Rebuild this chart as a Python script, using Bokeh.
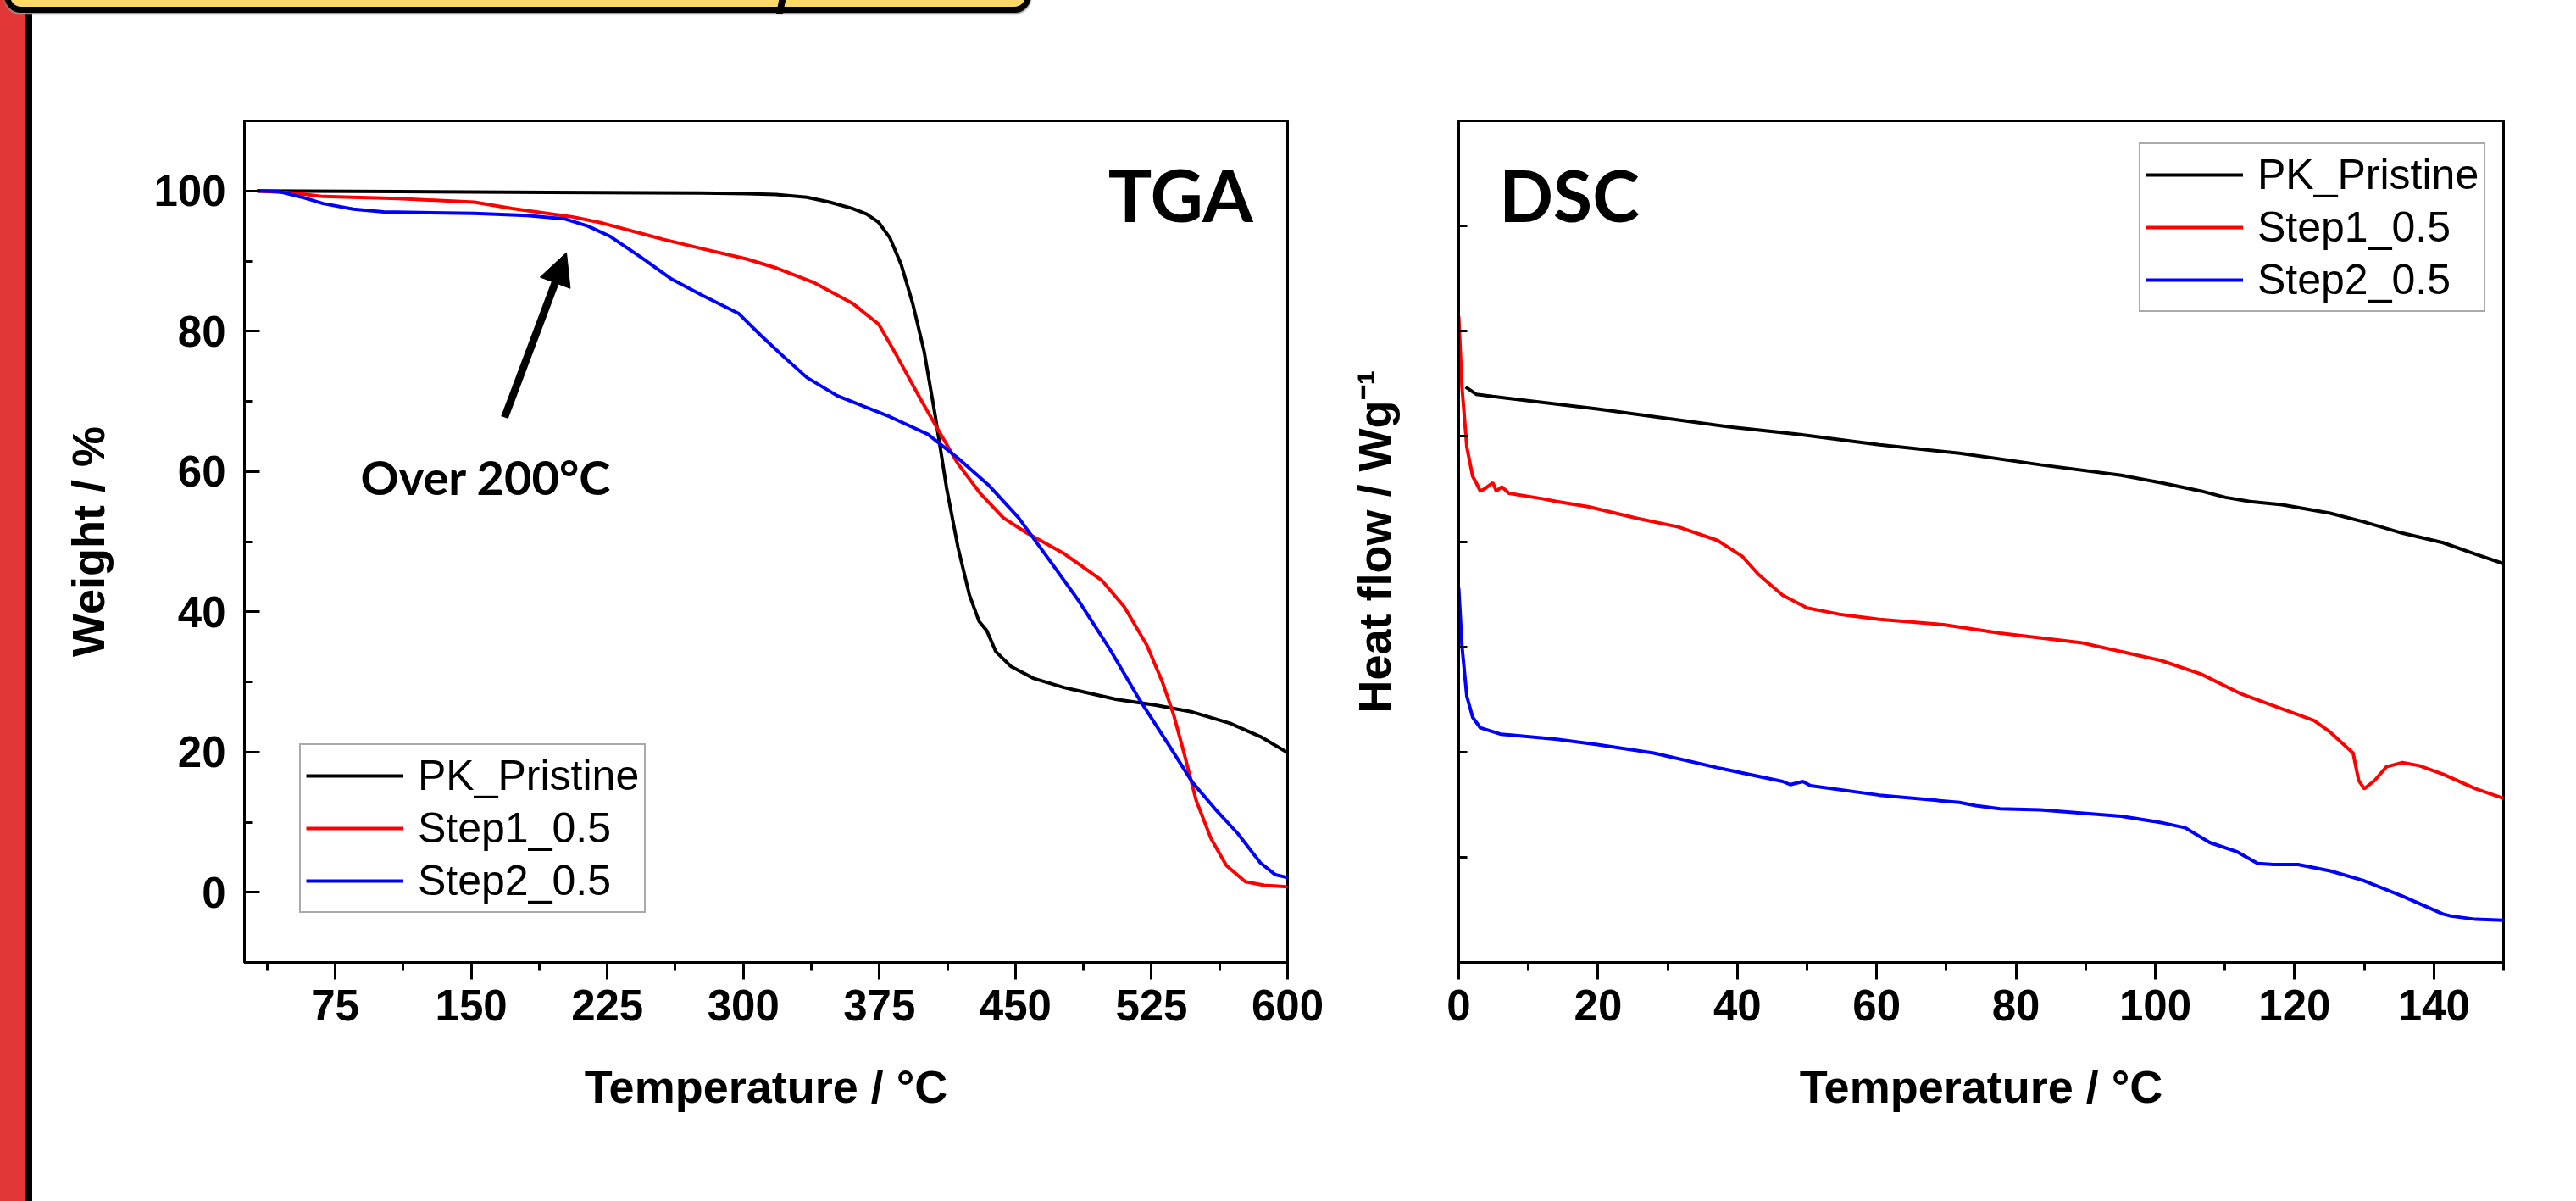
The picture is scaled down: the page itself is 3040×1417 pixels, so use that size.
from bokeh.plotting import figure
from bokeh.models import (FixedTicker, Legend, LegendItem, Label, Arrow, NormalHead,
                          Range1d, Div)
from bokeh.layouts import row
from bokeh.embed import file_html
from bokeh.resources import INLINE

# ---------------- data ----------------
series_names = ["PK_Pristine", "Step1_0.5", "Step2_0.5"]
series_colors = ["#000000", "#FF0000", "#0000FF"]

# TGA: temperature (°C) vs weight (%)
tga_pk_temp = [32, 110, 193, 277, 302, 318, 335, 347.5, 360, 368, 374.6, 380.8, 387, 393.3,
               399.6, 405.8, 412, 418.3, 424.6, 430, 434.2, 439.2, 447.5, 460, 476.7, 505.8,
               526.7, 547.5, 568.3, 585, 600]
tga_pk_weight = [100, 99.9, 99.8, 99.7, 99.6, 99.5, 99.1, 98.4, 97.5, 96.7, 95.5, 93.3, 89.5, 84,
                 77.2, 67.9, 57.7, 49.2, 42.4, 38.6, 37.3, 34.3, 32.2, 30.5, 29.2, 27.5,
                 26.7, 25.7, 24.1, 22.2, 19.9]

tga_s1_temp = [32, 52.5, 68.3, 110, 151.7, 172.5, 205.8, 222.5, 255.8, 276.7, 301.7, 318.3,
               339.2, 360, 374.6, 385, 397.5, 407.9, 418.3, 430.8, 443.3, 455.8, 476.7, 497.5,
               510, 522.5, 530.8, 537.1, 543.3, 549.6, 557.9, 566.3, 576.7, 587.1, 600]
tga_s1_weight = [100, 99.7, 99.2, 98.9, 98.4, 97.5, 96.3, 95.4, 93.1, 91.8, 90.3, 89.0,
                 86.9, 84.0, 81.0, 76.3, 70.4, 65.7, 61.1, 56.8, 53.4, 51.3, 48.3, 44.5,
                 40.7, 35.2, 30.1, 25.4, 19.5, 13.1, 7.6, 3.8, 1.5, 1.0, 0.8]

tga_s2_temp = [32, 44.2, 56.7, 68.3, 85, 101.7, 151.7, 180.8, 201.7, 214.2, 226.7, 243.3, 260,
               276.7, 297.5, 310, 322.5, 335, 351.7, 380.8, 401.7, 418.3, 435, 451.7, 468.3,
               485, 501.7, 518.3, 535, 547.5, 560, 572.5, 585, 593.3, 600]
tga_s2_weight = [100, 99.9, 99.1, 98.2, 97.4, 97.0, 96.8, 96.5, 96.0, 95.0, 93.5, 90.6, 87.5,
                 85.2, 82.5, 79.3, 76.3, 73.4, 70.8, 67.8, 65.3, 61.9, 58.1, 53.4, 47.5,
                 41.5, 34.8, 27.5, 20.8, 15.7, 11.9, 8.4, 4.2, 2.5, 2.1]

tga_x_ticks = [75, 150, 225, 300, 375, 450, 525, 600]
tga_x_minor = [37.5, 112.5, 187.5, 262.5, 337.5, 412.5, 487.5, 562.5]
tga_y_ticks = [0, 20, 40, 60, 80, 100]
tga_y_minor = [-10, 10, 30, 50, 70, 90, 110]

# DSC: temperature (°C) vs heat flow (arbitrary units, stacked)
dsc_pk_temp = [1.0, 2.5, 4.9, 19.9, 39.5, 48.8, 60.4, 71.9, 83.5, 95.1, 100.8, 106.6, 110.1,
               113.6, 118.2, 125.1, 129.8, 135.5, 141.3, 146, 150]
dsc_pk_heat = [5.47, 5.40, 5.38, 5.26, 5.085, 5.02, 4.92, 4.84, 4.73, 4.63, 4.56, 4.48, 4.42,
               4.38, 4.35, 4.27, 4.19, 4.08, 3.99, 3.88, 3.79]

dsc_s1_temp = [0, 0.46, 1.16, 2.0, 2.5, 3.1, 3.9, 4.9, 5.4, 6.2, 7.2, 11.8, 14.1, 18.7, 25.7,
               31.5, 37.2, 40.7, 43.0, 46.5, 50.0, 54.6, 60.4, 69.6, 77.7, 89.3, 97.4, 100.8,
               106.6, 112.4, 118.2, 122.8, 125.1, 126.9, 128.4, 129.2, 130.0, 131.5, 133.2,
               135.5, 137.9, 141.3, 146.0, 150]
dsc_s1_heat = [6.14, 5.47, 4.90, 4.62, 4.56, 4.48, 4.51, 4.56, 4.48, 4.52, 4.46, 4.41, 4.38,
               4.33, 4.22, 4.14, 4.01, 3.86, 3.69, 3.49, 3.37, 3.31, 3.26, 3.21, 3.13, 3.04,
               2.92, 2.87, 2.74, 2.55, 2.41, 2.30, 2.19, 2.08, 1.99, 1.73, 1.65, 1.73, 1.86,
               1.90, 1.87, 1.79, 1.65, 1.56]

dsc_s2_temp = [0, 0.46, 1.16, 2.0, 3.1, 6.0, 14.1, 19.9, 28.0, 37.2, 46.5, 47.6, 49.4, 50.5,
               60.4, 71.9, 74.2, 77.7, 83.5, 95.1, 100.8, 104.3, 107.8, 111.8, 114.7, 117.0,
               120.5, 125.1, 129.8, 135.5, 141.3, 142.5, 146.0, 150]
dsc_s2_heat = [3.56, 3.01, 2.53, 2.33, 2.23, 2.17, 2.12, 2.07, 1.99, 1.85, 1.72, 1.69, 1.72,
               1.68, 1.59, 1.52, 1.49, 1.46, 1.45, 1.39, 1.33, 1.28, 1.14, 1.05, 0.94, 0.93,
               0.93, 0.87, 0.78, 0.63, 0.46, 0.44, 0.41, 0.40]

dsc_x_ticks = [0, 20, 40, 60, 80, 100, 120, 140]
dsc_x_minor = [10, 30, 50, 70, 90, 110, 130, 150]
dsc_y_ticks = [1, 2, 3, 4, 5, 6, 7]

# annotation anchors (data coordinates)
tga_tag_pos = (581, 99.6)
dsc_tag_pos = (5.8, 7.30)
note_text = "Over 200°C"
note_pos = (89, 59.3)
arrow_start = (168.4, 67.7)
arrow_end = (202.5, 91.2)

TICK_FONT = "Liberation Sans"
TAG_FONT = "Lato"

BORDER_TOP = 142
BORDER_BOTTOM = 265


def style(p):
    p.xgrid.visible = False
    p.ygrid.visible = False
    p.outline_line_color = "black"
    p.outline_line_width = 3
    p.outline_line_alpha = 1
    p.background_fill_color = "white"
    p.border_fill_color = "white"
    for ax in (p.xaxis[0], p.yaxis[0]):
        ax.axis_line_width = 3
        ax.major_tick_line_width = 3
        ax.minor_tick_line_width = 3
        ax.major_label_text_font = TICK_FONT
        ax.major_label_text_font_style = "bold"
        ax.major_label_text_font_size = "51px"
        ax.major_label_text_color = "black"
        ax.axis_label_text_font = TICK_FONT
        ax.axis_label_text_font_style = "bold"
        ax.axis_label_text_font_size = "54px"
        ax.axis_label_text_color = "black"
    xa = p.xaxis[0]
    xa.major_tick_in = 0
    xa.major_tick_out = 20
    xa.minor_tick_in = 0
    xa.minor_tick_out = 10
    xa.major_label_standoff = 12
    xa.axis_label_standoff = 45
    ya = p.yaxis[0]
    ya.major_tick_in = 18
    ya.major_tick_out = 0
    ya.minor_tick_in = 9
    ya.minor_tick_out = 0
    ya.major_label_standoff = 22


def add_legend(p, renderers, loc):
    items = [LegendItem(label=n, renderers=[r]) for n, r in zip(series_names, renderers)]
    leg = Legend(items=items, location=loc, margin=0, padding=6, spacing=2,
                 glyph_width=115, glyph_height=60, label_height=60, label_standoff=17,
                 label_text_font=TICK_FONT, label_text_font_size="50px",
                 label_text_color="black",
                 border_line_color="#555555", border_line_width=2,
                 background_fill_color="white", background_fill_alpha=1)
    p.add_layout(leg)


# ---------------- TGA ----------------
tga = figure(width=1522, height=1400, output_backend="svg", toolbar_location=None,
             x_range=Range1d(25, 600), y_range=Range1d(-10, 110),
             min_border_left=248, min_border_right=43, min_border_top=BORDER_TOP,
             min_border_bottom=BORDER_BOTTOM)
style(tga)
tga.xaxis[0].ticker = FixedTicker(ticks=tga_x_ticks, minor_ticks=tga_x_minor)
tga.yaxis[0].ticker = FixedTicker(ticks=tga_y_ticks, minor_ticks=tga_y_minor)
tga.xaxis[0].axis_label = "Temperature / °C"
tga.yaxis[0].axis_label = "Weight / %"
tga.yaxis[0].axis_label_standoff = 44

tga_data = [(tga_pk_temp, tga_pk_weight), (tga_s1_temp, tga_s1_weight), (tga_s2_temp, tga_s2_weight)]
tga_r = [tga.line(x, y, line_color=c, line_width=4) for (x, y), c in zip(tga_data, series_colors)]
add_legend(tga, tga_r, (65, 58))

tga.add_layout(Label(x=tga_tag_pos[0], y=tga_tag_pos[1], text="TGA", text_align="right",
                     text_baseline="alphabetic", text_font=TAG_FONT, text_font_style="bold",
                     text_font_size="86px", text_color="black"))
tga.add_layout(Label(x=note_pos[0], y=note_pos[1], text=note_text, text_align="left",
                     text_baseline="alphabetic", text_font=TAG_FONT, text_font_style="bold",
                     text_font_size="56px", text_color="black"))
tga.add_layout(Arrow(end=NormalHead(size=38, fill_color="black", line_color="black"),
                     x_start=arrow_start[0], y_start=arrow_start[1],
                     x_end=arrow_end[0], y_end=arrow_end[1],
                     line_width=9, line_color="black"))

# ---------------- DSC ----------------
dsc = figure(width=1472, height=1400, output_backend="svg", toolbar_location=None,
             x_range=Range1d(0, 150), y_range=Range1d(0, 8),
             min_border_left=159, min_border_right=80, min_border_top=BORDER_TOP,
             min_border_bottom=BORDER_BOTTOM)
style(dsc)
dsc.xaxis[0].ticker = FixedTicker(ticks=dsc_x_ticks, minor_ticks=dsc_x_minor)
dsc.yaxis[0].ticker = FixedTicker(ticks=dsc_y_ticks, minor_ticks=[])
dsc.yaxis[0].major_tick_in = 10
dsc.yaxis[0].major_label_overrides = {t: "" for t in dsc_y_ticks}
dsc.yaxis[0].major_label_standoff = 0
dsc.yaxis[0].axis_label_standoff = 70
dsc.xaxis[0].axis_label = "Temperature / °C"
dsc.yaxis[0].axis_label = "Heat flow / Wg⁻¹"

dsc_data = [(dsc_pk_temp, dsc_pk_heat), (dsc_s1_temp, dsc_s1_heat), (dsc_s2_temp, dsc_s2_heat)]
dsc_r = [dsc.line(x, y, line_color=c, line_width=4) for (x, y), c in zip(dsc_data, series_colors)]
add_legend(dsc, dsc_r, (803, 767))
dsc.add_layout(Label(x=dsc_tag_pos[0], y=dsc_tag_pos[1], text="DSC", text_align="left",
                     text_baseline="alphabetic", text_font=TAG_FONT, text_font_style="bold",
                     text_font_size="84px", text_color="black"))

# ---------------- page decoration (slide frame) ----------------
deco_html = (
    '<div style="position:fixed;z-index:1000;left:0;top:0;width:29px;height:1417px;background:#E23636;"></div>'
    '<div style="position:fixed;z-index:1001;left:29px;top:10px;width:9px;height:1407px;background:#000;"></div>'
    '<div style="position:fixed;z-index:1002;left:5px;top:-45px;width:1212px;height:60px;box-sizing:border-box;'
    'background:#FFD966;border:7px solid #000;border-radius:20px;box-shadow:0 2px 2px #999;"></div>'
    '<div style="position:fixed;z-index:1003;left:918px;top:-4px;width:8px;height:20px;background:#000;'
    'transform:skewX(-12deg);"></div>'
)
deco = Div(text=deco_html, width=30, height=1400, styles={"z-index": "1000", "position": "relative"})

layout = row(deco, tga, dsc)
open("out.html", "w").write(file_html(layout, INLINE))
